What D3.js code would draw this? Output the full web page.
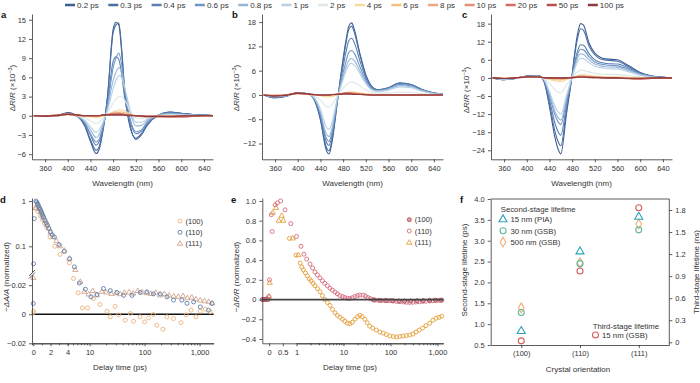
<!DOCTYPE html>
<html>
<head>
<meta charset="utf-8">
<script src="https://cdn.jsdelivr.net/npm/d3@7"></script>
<style>
  body { margin: 0; background: #fff; }
  svg { font-family: "Liberation Sans", Arial, sans-serif; }
</style>
</head>
<body>
<svg id="fig" width="700" height="383"></svg>
<script>
// ---- data ----
const delays = ["0.2 ps", "0.3 ps", "0.4 ps", "0.6 ps", "0.8 ps", "1 ps", "2 ps", "4 ps", "6 ps", "8 ps", "10 ps", "20 ps", "50 ps", "100 ps"];
const delayColors = ["#3d5f93", "#4a6ea3", "#5b7fb3", "#6f95c4", "#94b6d8", "#b7d0e6", "#dde7e6", "#f3dca0", "#f2c182", "#eba581", "#e39078", "#d36d62", "#b4504f", "#8b3b3e"];
const wavelengths = [340, 360, 380, 400, 420, 430, 440, 450, 455, 460, 470, 480, 485, 490, 495, 500, 510, 520, 530, 540, 560, 580, 600, 620, 640, 660];
const wlTicks = [360, 400, 440, 480, 520, 560, 600, 640];

// panel a, dR/R (x10^-3), one row per delay
const specA = [
  [0, -0.1, 0, 0.5, -0.3, -1.6, -4.0, -5.9, -5.3, -3.4, 3.0, 13.5, 14.6, 14.2, 10.0, 4.0, -1.8, -3.5, -2.8, -1.4, 0.1, 0.6, 0.4, 0.2, 0.1, 0],
  [0, -0.1, 0, 0.4, -0.3, -1.5, -3.7, -5.4, -4.9, -3.1, 2.8, 13.0, 14.2, 14.5, 10.5, 4.5, -1.5, -3.7, -3.0, -1.5, 0.1, 0.6, 0.4, 0.2, 0.1, 0],
  [0, -0.1, 0, 0.4, -0.2, -1.2, -3.0, -4.6, -4.1, -2.7, 2.0, 8.5, 9.2, 8.8, 6.5, 3.0, -1.0, -2.8, -2.4, -1.2, 0.1, 0.5, 0.3, 0.2, 0.1, 0],
  [0, -0.1, 0, 0.3, -0.2, -1.1, -2.8, -4.1, -3.7, -2.4, 1.5, 7.5, 9.0, 9.8, 8.0, 4.5, -0.5, -2.5, -2.2, -1.0, 0.1, 0.4, 0.3, 0.1, 0.1, 0],
  [0, 0, 0, 0.3, -0.2, -0.9, -2.2, -3.4, -3.0, -1.9, 1.2, 5.5, 6.8, 7.5, 6.8, 4.5, 0.5, -1.6, -1.5, -0.7, 0.1, 0.3, 0.2, 0.1, 0, 0],
  [0, 0, 0, 0.3, -0.1, -0.7, -1.7, -2.6, -2.3, -1.4, 0.8, 4.2, 5.5, 6.3, 6.0, 4.5, 1.0, -1.0, -1.0, -0.5, 0, 0.2, 0.1, 0.1, 0, 0],
  [0, 0, 0, 0.2, -0.1, -0.3, -0.8, -1.2, -1.0, -0.6, 0.4, 2.0, 2.6, 3.0, 3.0, 2.5, 0.8, -0.3, -0.4, -0.2, 0, 0.1, 0.1, 0, 0, 0],
  [0, 0, 0, 0.2, 0, -0.1, -0.2, -0.3, -0.2, -0.1, 0.2, 0.6, 0.8, 0.9, 0.9, 0.8, 0.3, 0, -0.1, -0.1, 0, 0, 0, 0, 0, 0],
  [0, 0, 0, 0.2, 0, 0, -0.1, -0.1, -0.1, 0, 0.2, 0.5, 0.6, 0.6, 0.6, 0.5, 0.2, 0, -0.1, -0.1, 0, -0.1, -0.1, 0, 0, 0],
  [0, 0, 0, 0.2, 0, 0, 0, 0, 0, 0, 0.2, 0.4, 0.4, 0.5, 0.4, 0.3, 0.1, 0, -0.1, -0.1, -0.1, -0.2, -0.1, -0.1, 0, 0],
  [0, 0, 0, 0.2, 0, 0, 0, 0, 0, 0.1, 0.2, 0.3, 0.4, 0.4, 0.3, 0.2, 0.1, 0, -0.1, -0.1, -0.1, -0.2, -0.2, -0.1, 0, 0],
  [0, 0, 0.1, 0.3, 0.1, 0, 0, 0, 0, 0.1, 0.2, 0.3, 0.3, 0.3, 0.3, 0.2, 0.1, 0, -0.1, -0.2, -0.2, -0.2, -0.2, -0.1, 0, 0],
  [0, 0, 0.1, 0.3, 0.1, 0, 0, 0, 0, 0.1, 0.2, 0.2, 0.2, 0.2, 0.2, 0.1, 0.1, 0, -0.1, -0.1, -0.1, -0.1, -0.1, 0, 0, 0],
  [0, -0.1, 0, 0.2, 0.1, 0, 0, 0, 0, 0.1, 0.1, 0.1, 0.1, 0.1, 0.1, 0.1, 0, 0, 0, -0.1, -0.1, -0.1, 0, 0, 0, 0]
];

// panel b
const specB = [
  [0, -0.7, -0.3, 0.6, 0.2, -1.5, -6.2, -13.5, -14.6, -12.0, -1.5, 9.0, 13.5, 17.0, 17.8, 16.0, 10.0, 5.0, 2.2, 1.3, 1.8, 3.0, 2.6, 1.3, 0.5, 0.2],
  [0, -0.7, -0.3, 0.6, 0.2, -1.4, -5.8, -12.8, -13.8, -11.4, -1.4, 8.5, 12.8, 16.2, 17.0, 15.3, 9.6, 4.8, 2.1, 1.3, 1.8, 2.9, 2.5, 1.2, 0.5, 0.2],
  [0, -0.6, -0.3, 0.5, 0.2, -1.2, -5.2, -11.5, -12.5, -10.3, -1.2, 7.0, 10.6, 13.4, 14.0, 12.8, 8.2, 4.2, 1.9, 1.2, 1.8, 2.9, 2.5, 1.2, 0.5, 0.2],
  [0, -0.5, -0.2, 0.5, 0.2, -1.1, -4.8, -10.6, -11.5, -9.5, -1.0, 5.5, 8.3, 10.5, 11.0, 10.2, 6.8, 3.6, 1.6, 1.1, 1.6, 2.6, 2.2, 1.1, 0.4, 0.2],
  [0, -0.4, -0.2, 0.5, 0.2, -1.0, -4.3, -9.5, -10.3, -8.5, -0.9, 4.5, 6.8, 8.5, 9.0, 8.4, 5.8, 3.1, 1.4, 1.0, 1.4, 2.3, 2.0, 1.0, 0.4, 0.2],
  [0, -0.4, -0.2, 0.4, 0.1, -0.8, -3.5, -7.8, -8.5, -7.0, -0.7, 3.8, 5.9, 7.4, 7.8, 7.3, 5.1, 2.8, 1.3, 0.9, 1.2, 2.0, 1.8, 0.9, 0.3, 0.1],
  [0, -0.2, -0.1, 0.3, 0.1, -0.3, -1.3, -2.8, -3.0, -2.5, -0.2, 1.6, 2.4, 3.0, 3.2, 3.0, 2.2, 1.3, 0.7, 0.5, 0.5, 0.7, 0.6, 0.3, 0.1, 0],
  [0, -0.1, 0, 0.3, 0.1, 0, -0.2, -0.5, -0.5, -0.4, 0, 0.4, 0.6, 0.7, 0.8, 0.7, 0.5, 0.3, 0.2, 0.1, 0.1, 0.1, 0.1, 0, 0, 0],
  [0, -0.1, 0, 0.3, 0.1, 0, -0.1, -0.2, -0.2, -0.1, 0.1, 0.4, 0.5, 0.6, 0.6, 0.5, 0.4, 0.2, 0.1, 0.1, 0, 0, 0, 0, 0, 0],
  [0, -0.1, 0, 0.4, 0.1, 0, 0, -0.1, -0.1, 0, 0.1, 0.4, 0.5, 0.5, 0.5, 0.4, 0.3, 0.1, 0.1, 0, 0, 0, 0, 0, 0, 0],
  [0, -0.1, 0, 0.4, 0.1, 0, 0, 0, 0, 0, 0.2, 0.4, 0.5, 0.5, 0.4, 0.4, 0.2, 0.1, 0, 0, 0, 0, 0, 0, 0, 0],
  [0, -0.2, 0, 0.5, 0.2, 0, 0, 0, 0, 0.1, 0.2, 0.4, 0.5, 0.5, 0.4, 0.3, 0.2, 0.1, 0, 0, 0, 0, 0, 0, 0, 0],
  [0, -0.2, 0, 0.5, 0.2, 0.1, 0, 0, 0, 0.1, 0.2, 0.3, 0.3, 0.3, 0.3, 0.2, 0.1, 0.1, 0, 0, 0, 0, 0, 0, 0, 0],
  [0, -0.3, -0.1, 0.4, 0.2, 0.1, 0, 0, 0, 0.1, 0.1, 0.2, 0.2, 0.2, 0.2, 0.1, 0.1, 0, 0, 0, 0, 0, 0, 0, 0, 0]
];

// panel c
const specC = [
  [0, -0.6, -0.2, 0.6, 0.8, -1.0, -9.5, -20.0, -23.5, -25.2, -12.0, 1.0, 9.0, 15.0, 18.0, 17.5, 11.5, 8.2, 6.8, 6.3, 6.0, 4.0, 1.8, 0.6, 0.2, 0],
  [0, -0.6, -0.2, 0.6, 0.8, -0.9, -8.5, -18.0, -21.0, -22.5, -10.8, 0.9, 8.1, 13.5, 16.3, 15.8, 10.5, 7.6, 6.3, 5.9, 5.5, 3.7, 1.7, 0.6, 0.2, 0],
  [0, -0.5, -0.2, 0.5, 0.7, -0.8, -7.2, -15.2, -17.8, -19.0, -9.2, 0.6, 5.5, 9.2, 11.0, 10.8, 8.0, 6.0, 5.2, 4.8, 4.6, 3.2, 1.5, 0.5, 0.2, 0],
  [0, -0.5, -0.2, 0.5, 0.6, -0.6, -5.9, -12.4, -14.5, -15.5, -7.5, 0.5, 4.7, 8.0, 9.5, 9.3, 7.0, 5.3, 4.6, 4.3, 4.0, 2.8, 1.3, 0.5, 0.2, 0],
  [0, -0.4, -0.2, 0.4, 0.6, -0.5, -5.3, -11.2, -13.1, -14.0, -6.8, 0.4, 4.0, 6.8, 8.0, 7.8, 6.0, 4.6, 4.0, 3.7, 3.5, 2.4, 1.1, 0.4, 0.1, 0],
  [0, -0.4, -0.1, 0.4, 0.5, -0.4, -4.5, -9.6, -11.2, -12.0, -5.8, 0.3, 3.2, 5.5, 6.5, 6.4, 5.0, 3.9, 3.4, 3.1, 2.9, 2.0, 0.9, 0.3, 0.1, 0],
  [0, -0.2, -0.1, 0.3, 0.4, -0.2, -1.9, -4.0, -4.7, -5.0, -2.4, 0.2, 1.3, 2.1, 2.5, 2.5, 2.0, 1.5, 1.3, 1.2, 1.1, 0.8, 0.4, 0.1, 0, 0],
  [0, -0.1, 0, 0.3, 0.3, 0, -0.5, -1.0, -1.1, -1.2, -0.6, 0.1, 0.5, 0.8, 1.0, 1.0, 0.8, 0.6, 0.5, 0.4, 0.3, 0.2, 0.1, 0, 0, 0],
  [0, -0.1, 0, 0.3, 0.3, 0, -0.3, -0.6, -0.6, -0.7, -0.3, 0.1, 0.4, 0.6, 0.7, 0.7, 0.6, 0.4, 0.3, 0.2, 0.2, 0.1, 0, 0, 0, 0],
  [0, -0.1, 0, 0.3, 0.3, 0, -0.1, -0.3, -0.3, -0.4, -0.2, 0.1, 0.3, 0.5, 0.5, 0.5, 0.4, 0.3, 0.2, 0.1, 0, -0.1, -0.2, -0.1, 0, 0],
  [0, -0.1, 0, 0.3, 0.3, 0.1, 0, -0.2, -0.2, -0.2, -0.1, 0.1, 0.3, 0.4, 0.5, 0.5, 0.4, 0.3, 0.2, 0.1, 0, -0.2, -0.3, -0.2, 0, 0],
  [0, -0.2, 0, 0.4, 0.4, 0.1, 0, -0.1, -0.1, -0.1, 0, 0.2, 0.3, 0.4, 0.4, 0.4, 0.3, 0.2, 0.1, 0, -0.1, -0.3, -0.4, -0.2, 0, 0],
  [0, -0.2, 0, 0.4, 0.4, 0.1, 0, 0, 0, 0, 0, 0.1, 0.2, 0.3, 0.3, 0.3, 0.2, 0.1, 0.1, 0, -0.1, -0.2, -0.3, -0.1, 0, 0],
  [0, -0.2, 0, 0.3, 0.3, 0.1, 0, 0, 0, 0, 0, 0.1, 0.1, 0.2, 0.2, 0.2, 0.1, 0.1, 0, 0, 0, -0.1, -0.1, 0, 0, 0]
];

// panel d: [delay (ps), -dA/A normalized]
const d100 = [[0, 0.001], [0.03, 0.002], [0.3, 0.68], [0.55, 0.58], [0.8, 0.47], [1.05, 0.39], [1.3, 0.32], [1.55, 0.27], [1.95, 0.16], [2.5, 0.1], [3.1, 0.066], [4.3, 0.043], [5.1, 0.0246], [6.2, 0.0147], [7.4, 0.0044], [9.2, 0.0044], [11.8, 0.0108], [15.5, 0.0067], [20.7, 0.002], [23.8, -0.0018], [29, 0.0054], [33.7, -0.0005], [44.6, -0.0041], [55, 0.0005], [63, -0.0048], [83, -0.0018], [100, -0.0053], [118, -0.0025], [145, -0.0002], [167, -0.0076], [215, -0.0103], [255, -0.0018], [336, -0.003], [460, -0.0058], [570, -0.0005], [700, 0.0028], [860, -0.0018], [1030, 0.0021], [1270, 0.0035], [1560, 0.0016]];
const d110 = [[0, 0.0074], [0.03, 0.041], [0.12, 0.41], [0.3, 1.0], [0.4, 0.95], [0.5, 0.88], [0.6, 0.8], [0.7, 0.72], [0.8, 0.66], [0.9, 0.6], [1.0, 0.54], [1.1, 0.48], [1.2, 0.44], [1.35, 0.38], [1.5, 0.33], [1.65, 0.29], [1.8, 0.25], [2.0, 0.21], [2.2, 0.18], [2.45, 0.16], [3.0, 0.109], [3.6, 0.077], [4.33, 0.053], [5.3, 0.035], [6.5, 0.0214], [8.4, 0.0172], [10.6, 0.012], [13.6, 0.0136], [17.9, 0.0177], [23.8, 0.0163], [31.5, 0.015], [41.5, 0.013], [58.9, 0.013], [83.4, 0.015], [110, 0.0154], [145, 0.014], [193, 0.014], [255, 0.012], [336, 0.0097], [476, 0.0097], [590, 0.0075], [780, 0.0085], [1030, 0.005], [1460, 0.0028], [1680, 0.0074]];
const d111 = [[0, 0.025], [0.25, 0.7], [0.45, 0.82], [0.6, 0.75], [0.75, 0.66], [0.9, 0.58], [1.05, 0.5], [1.2, 0.43], [1.4, 0.36], [1.6, 0.3], [1.8, 0.25], [2.0, 0.2], [2.3, 0.16], [2.7, 0.13], [3.1, 0.1], [3.6, 0.08], [4.3, 0.053], [5.5, 0.03], [6.8, 0.0223], [8, 0.0154], [9.6, 0.0136], [11.4, 0.016], [13.6, 0.013], [16.8, 0.0155], [20, 0.015], [25, 0.014], [30, 0.0145], [36, 0.0138], [43, 0.0148], [52, 0.015], [62, 0.0142], [75, 0.016], [90, 0.015], [110, 0.0145], [130, 0.014], [160, 0.0148], [190, 0.013], [230, 0.0138], [280, 0.0128], [340, 0.0122], [410, 0.012], [500, 0.0125], [600, 0.011], [720, 0.0115], [860, 0.0102], [1030, 0.0095], [1230, 0.009], [1470, 0.0085], [1700, 0.0075]];

// panel e: [delay (ps), -dR/R normalized]
const e100 = [[-0.25, 0], [-0.18, 0], [-0.11, 0], [-0.04, 0], [45, -0.005], [60, -0.008], [80, -0.01], [110, -0.012], [150, -0.015], [200, -0.015], [270, -0.015], [370, -0.012], [500, -0.01], [680, -0.008], [900, -0.006], [1200, -0.005]];
const e110 = [[-0.22, 0], [-0.15, 0], [-0.08, 0.01], [-0.02, 0.03], [0.01, 0.2], [0.08, 0.86], [0.11, 0.69], [0.22, 0.96], [0.3, 0.98], [0.42, 1.0], [0.58, 0.91], [0.79, 0.77], [1.0, 0.64], [1.25, 0.54], [1.44, 0.46], [1.65, 0.41], [1.94, 0.36], [2.2, 0.32], [2.47, 0.28], [2.8, 0.25], [3.16, 0.22], [3.55, 0.19], [4.0, 0.165], [4.55, 0.14], [5.16, 0.115], [5.8, 0.095], [6.6, 0.075], [7.4, 0.058], [8.4, 0.04], [9.5, 0.03], [10.7, 0.02], [12.1, 0.013], [13.7, 0.01], [15.5, 0.018], [17.5, 0.03], [19.8, 0.04], [22.3, 0.045], [26, 0.045], [29.5, 0.035], [33, 0.02], [37, 0.01], [41.8, 0], [47, -0.005], [55, -0.008], [64, -0.01], [75, -0.01], [86, -0.012], [97, -0.01], [115, -0.015], [135, -0.02], [160, -0.022], [190, -0.025], [220, -0.028], [256, -0.03], [300, -0.028], [350, -0.025], [410, -0.022], [480, -0.02], [560, -0.018], [683, -0.015], [800, -0.012], [950, -0.01], [1100, -0.008], [1230, -0.008]];
const e111Early = [[0.0, 0.03], [0.02, 0.17], [0.13, 0.88], [0.25, 0.93], [0.35, 0.8], [0.46, 0.85], [0.52, 0.8], [0.86, 0.62], [1.1, 0.45]];
const e111 = [[-0.2, 0], [-0.1, 0], [0.74, 0.62], [0.98, 0.45], [1.2, 0.37], [1.3, 0.33], [1.4, 0.3], [1.55, 0.27], [1.7, 0.24], [1.87, 0.21], [2.05, 0.19], [2.25, 0.165], [2.47, 0.14], [2.8, 0.11], [3.16, 0.08], [3.55, 0.04], [4.0, 0.0], [4.55, -0.03], [5.16, -0.06], [5.8, -0.1], [6.6, -0.135], [7.4, -0.16], [8.4, -0.18], [9.5, -0.2], [10.7, -0.22], [12.1, -0.24], [13.7, -0.245], [15.5, -0.23], [17.5, -0.2], [19.8, -0.175], [22.3, -0.16], [25, -0.175], [28.5, -0.2], [32, -0.235], [36, -0.27], [42, -0.29], [50, -0.31], [59, -0.33], [70, -0.34], [82, -0.355], [97, -0.37], [115, -0.375], [134, -0.38], [158, -0.375], [185, -0.37], [218, -0.365], [256, -0.36], [300, -0.35], [350, -0.33], [410, -0.31], [480, -0.29], [570, -0.265], [683, -0.24], [800, -0.21], [930, -0.19], [1080, -0.18], [1230, -0.17]];

// panel f
const orientations = ["(100)", "(110)", "(111)"];
const pia15 = [0.83, 2.74, 3.57];     // ps
const gsb30 = [1.28, 2.45, 3.26];     // ps
const gsb500 = [1.39, 2.47, 3.40];    // ps
const third15 = [0.02, 0.97, 1.83];   // ns

// ---- drawing ----
const svg = d3.select("#fig");
const ink = "#333";
const minus = s => String(s).replace("-", "\u2212");

function styleAxis(g) {
  g.selectAll("path, line").attr("stroke", ink).attr("stroke-width", 0.8);
  g.selectAll("text").attr("fill", ink).style("font-size", "7.5px");
}

function panelLabel(x, y, t) {
  svg.append("text").attr("x", x).attr("y", y).attr("font-weight", "bold")
    .attr("font-size", 9.5).attr("fill", "#111").text(t);
}

function title(x, y, t) {
  svg.append("text").attr("x", x).attr("y", y).attr("text-anchor", "middle")
    .attr("font-size", 8).attr("fill", ink).text(t);
}

// rotated y title made of parts [text, kind]
function yTitle(x, y, parts) {
  const t = svg.append("text").attr("transform", `translate(${x},${y}) rotate(-90)`)
    .attr("text-anchor", "middle").attr("font-size", 8).attr("fill", ink);
  for (const [s, kind] of parts) {
    const sp = t.append("tspan").text(s);
    if (kind === "i") sp.attr("font-style", "italic");
    if (kind === "sup") sp.attr("font-size", 5.5).attr("dy", -3);
    if (kind === "after") sp.attr("dy", 3);
  }
}
const dRR = [["Δ"], ["R", "i"], ["/"], ["R", "i"], [" (×10"], ["\u22123", "sup"], [")", "after"]];

// top legend
(function () {
  const lg = svg.append("g").attr("font-size", 8).attr("fill", ink);
  let x = 65;
  delays.forEach((d, i) => {
    lg.append("line").attr("x1", x).attr("x2", x + 10).attr("y1", 5).attr("y2", 5)
      .attr("stroke", delayColors[i]).attr("stroke-width", 2.5);
    const t = lg.append("text").attr("x", x + 12).attr("y", 8).text(d);
    x += 12 + t.node().getComputedTextLength() + 9.5;
  });
})();

function spectra(id, rows, xr, yDomain, yTicks) {
  const x = d3.scaleLinear().domain([337, 656]).range(xr);
  const y = d3.scaleLinear().domain(yDomain).range([159.3, 14]);
  svg.append("clipPath").attr("id", id).append("rect")
    .attr("x", xr[0]).attr("y", 14).attr("width", xr[1] - xr[0]).attr("height", 145.3);
  const line = d3.line().x((v, i) => x(wavelengths[i])).y(v => y(v)).curve(d3.curveMonotoneX);
  const g = svg.append("g").attr("clip-path", `url(#${id})`);
  rows.forEach((r, i) => {
    g.append("path").attr("d", line(r)).attr("fill", "none")
      .attr("stroke", delayColors[i]).attr("stroke-width", 1.1);
  });
  const gx = svg.append("g").attr("transform", "translate(0,159.3)")
    .call(d3.axisBottom(x).tickValues(wlTicks).tickSize(3).tickSizeOuter(0));
  styleAxis(gx);
  const gy = svg.append("g").attr("transform", `translate(${xr[0]},0)`)
    .call(d3.axisLeft(y).tickValues(yTicks).tickSize(3).tickSizeOuter(0).tickFormat(minus));
  styleAxis(gy);
  title((xr[0] + xr[1]) / 2, 186, "Wavelength (nm)");
}

spectra("clipA", specA, [32, 213], [-6.8, 15.9], [-6, -3, 0, 3, 6, 9, 12, 15]);
spectra("clipB", specB, [262, 443], [-15.9, 20], [-12, -6, 0, 6, 12, 18]);
spectra("clipC", specC, [491, 672], [-27, 21.2], [-24, -18, -12, -6, 0, 6, 12, 18]);
panelLabel(1, 18, "a");
panelLabel(232, 18, "b");
panelLabel(462, 18, "c");
yTitle(15, 88, dRR);
yTitle(238.5, 88, dRR);
yTitle(468.5, 90, dRR);

function circles(g, data, fx, fy, color, fill) {
  g.selectAll(null).data(data).join("circle")
    .attr("cx", d => fx(d[0])).attr("cy", d => fy(d[1])).attr("r", 2.0)
    .attr("fill", fill || "none").attr("stroke", color).attr("stroke-width", 0.9);
}
function triangles(g, data, fx, fy, color) {
  const sym = d3.symbol(d3.symbolTriangle, 12);
  g.selectAll(null).data(data).join("path")
    .attr("transform", d => `translate(${fx(d[0])},${fy(d[1])})`)
    .attr("d", sym).attr("fill", "none").attr("stroke", color).attr("stroke-width", 0.9);
}
function smallLegend(x, ys, labels, draw) {
  labels.forEach((l, i) => {
    draw(i, x, ys[i]);
    svg.append("text").attr("x", x + 5.5).attr("y", ys[i] + 2.7).attr("font-size", 7.5)
      .attr("fill", ink).text(l);
  });
}

// panel d
(function () {
  const xLin = d3.scaleLinear().domain([-0.15, 4]).range([32, 67.7]);
  const xLog = d3.scaleLog().domain([4, 1800]).range([67.7, 213.6]);
  const yLin = d3.scaleLinear().domain([-0.02, 0.027]).range([343.3, 275]);
  const yLog = d3.scaleLog().domain([0.027, 1.17]).range([272, 198]);
  const fx = t => (t <= 4 ? xLin(t) : xLog(t));
  const fy = v => (v < 0.027 ? yLin(v) : yLog(v));
  const cD = { c100: "#ecb47c", c110: "#5d80ac", c111: "#cfa58e" };

  svg.append("line").attr("x1", 32).attr("x2", 213.6).attr("y1", yLin(0)).attr("y2", yLin(0))
    .attr("stroke", "#111").attr("stroke-width", 1.4);

  const g = svg.append("g");
  circles(g, d100, fx, fy, cD.c100);
  triangles(g, d111, fx, fy, cD.c111);
  circles(g, d110, fx, fy, cD.c110);

  const bx = 343.3;
  styleAxis(svg.append("g").attr("transform", `translate(0,${bx})`)
    .call(d3.axisBottom(xLin).tickValues([0, 2, 4]).tickSize(3).tickSizeOuter(0).tickFormat(d => d)));
  styleAxis(svg.append("g").attr("transform", `translate(0,${bx})`)
    .call(d3.axisBottom(xLin).tickValues([1, 3]).tickSize(2).tickFormat("")));
  styleAxis(svg.append("g").attr("transform", `translate(0,${bx})`)
    .call(d3.axisBottom(xLog).tickValues([10, 100, 1000]).tickSize(3).tickSizeOuter(0).tickFormat(d3.format(","))));
  styleAxis(svg.append("g").attr("transform", `translate(0,${bx})`)
    .call(d3.axisBottom(xLog).tickValues([5, 6, 7, 8, 9, 20, 30, 40, 50, 60, 70, 80, 90, 200, 300, 400, 500, 600, 700, 800, 900]).tickSize(2).tickSizeOuter(0).tickFormat("")));

  styleAxis(svg.append("g").attr("transform", "translate(32,0)")
    .call(d3.axisLeft(yLog).tickValues([0.1, 1]).tickSize(3).tickSizeOuter(0).tickFormat(d => d)));
  styleAxis(svg.append("g").attr("transform", "translate(32,0)")
    .call(d3.axisLeft(yLin).tickValues([-0.02, 0, 0.02]).tickSize(3).tickSizeOuter(0).tickFormat(minus)));
  // axis break mark
  svg.append("path").attr("d", "M29,276L35,270M29,278.5L35,272.5").attr("stroke", ink).attr("stroke-width", 0.8);

  smallLegend(180, [221, 232.3, 243.7], ["(100)", "(110)", "(111)"], (i, x, y) => {
    const item = [[0, 0]];
    const g2 = svg.append("g");
    if (i === 0) circles(g2, item, () => x, () => y, cD.c100);
    if (i === 1) circles(g2, item, () => x, () => y, cD.c110);
    if (i === 2) triangles(g2, item, () => x, () => y, cD.c111);
  });
  title(120, 370, "Delay time (ps)");
  yTitle(8.5, 277, [["\u2212ΔA/A", "i"], [" (normalized)"]]);
  panelLabel(0, 203, "d");
})();

// panel e
(function () {
  const xLin = d3.scaleLinear().domain([-0.25, 1]).range([262.3, 296.5]);
  const xLog = d3.scaleLog().domain([1, 1330]).range([296.5, 443.3]);
  const y = d3.scaleLinear().domain([-0.444, 1.03]).range([343.3, 198]);
  const fx = t => (t <= 1 ? xLin(t) : xLog(t));
  const cE = { c100: "#a8505c", f100: "#dca3ab", c110: "#d66c7c", c111: "#e3a03c" };

  const g = svg.append("g");
  circles(g, e111, fx, y, cE.c111);
  triangles(g, e111Early, fx, y, cE.c111);
  circles(g, e110, fx, y, cE.c110);
  circles(g, e100, fx, y, cE.c100, cE.f100);

  svg.append("line").attr("x1", 262.3).attr("x2", 443.3).attr("y1", y(0)).attr("y2", y(0))
    .attr("stroke", "#444").attr("stroke-width", 1.8);

  const bx = 343.3;
  styleAxis(svg.append("g").attr("transform", `translate(0,${bx})`)
    .call(d3.axisBottom(xLin).tickValues([0, 0.5, 1]).tickSize(3).tickSizeOuter(0).tickFormat(d => d)));
  styleAxis(svg.append("g").attr("transform", `translate(0,${bx})`)
    .call(d3.axisBottom(xLog).tickValues([10, 100, 1000]).tickSize(3).tickSizeOuter(0).tickFormat(d3.format(","))));
  styleAxis(svg.append("g").attr("transform", `translate(0,${bx})`)
    .call(d3.axisBottom(xLog).tickValues([2, 3, 4, 5, 6, 7, 8, 9, 20, 30, 40, 50, 60, 70, 80, 90, 200, 300, 400, 500, 600, 700, 800, 900]).tickSize(2).tickSizeOuter(0).tickFormat("")));
  styleAxis(svg.append("g").attr("transform", "translate(262.3,0)")
    .call(d3.axisLeft(y).tickValues([-0.4, -0.2, 0, 0.2, 0.4, 0.6, 0.8, 1.0]).tickSize(3).tickSizeOuter(0)
      .tickFormat(d => (d === 0 ? "0" : minus(d3.format(".1f")(d))))));

  smallLegend(409.3, [219.7, 231, 242.7], ["(100)", "(110)", "(111)"], (i, x, yy) => {
    const item = [[0, 0]];
    const g2 = svg.append("g");
    if (i === 0) circles(g2, item, () => x, () => yy, cE.c100, cE.f100);
    if (i === 1) circles(g2, item, () => x, () => yy, cE.c110);
    if (i === 2) triangles(g2, item, () => x, () => yy, cE.c111);
  });
  title(350, 370, "Delay time (ps)");
  yTitle(238.5, 277, [["\u2212ΔR/R", "i"], [" (normalized)"]]);
  panelLabel(231, 203, "e");
})();

// panel f
(function () {
  const x = d3.scalePoint().domain(orientations).range([490.7, 669.3]).padding(0.52);
  const yL = d3.scaleLinear().domain([0.5, 4]).range([345, 199]);
  const yR = d3.scaleLinear().domain([0, 1.8]).range([342.3, 210]);
  const cF = { pia: "#2aa3b8", g30: "#62b89c", g500: "#f1b078", third: "#d55f5c" };
  const tri = d3.symbol(d3.symbolTriangle, 28);
  const dia = d3.symbol(d3.symbolDiamond, 28);

  svg.append("line").attr("x1", 490.7).attr("x2", 669.3).attr("y1", 199).attr("y2", 199)
    .attr("stroke", ink).attr("stroke-width", 0.8);

  styleAxis(svg.append("g").attr("transform", "translate(0,345)")
    .call(d3.axisBottom(x).tickSize(3).tickSizeOuter(0)));
  styleAxis(svg.append("g").attr("transform", "translate(490.7,0)")
    .call(d3.axisLeft(yL).tickValues(d3.range(0.5, 4.01, 0.5)).tickSize(3).tickSizeOuter(0).tickFormat(d3.format(".1f"))));
  const gr = svg.append("g").attr("transform", "translate(669.3,0)")
    .call(d3.axisRight(yR).tickValues([0, 0.3, 0.6, 0.9, 1.2, 1.5, 1.8]).tickSize(3).tickSizeOuter(0)
      .tickFormat(d => (d === 0 ? "0" : d3.format(".1f")(d))));
  styleAxis(gr);
  gr.select(".domain").attr("d", "M0,199V345");

  const g = svg.append("g").attr("fill", "none").attr("stroke-width", 1.1);
  const mark = (vals, scale, color, shape) => {
    orientations.forEach((o, i) => {
      if (shape === "c") {
        g.append("circle").attr("cx", x(o)).attr("cy", scale(vals[i])).attr("r", 3.0).attr("stroke", color);
      } else {
        g.append("path").attr("transform", `translate(${x(o)},${scale(vals[i])})`)
          .attr("d", shape === "t" ? tri : dia).attr("stroke", color);
      }
    });
  };
  mark(gsb500, yL, cF.g500, "d");
  mark(gsb30, yL, cF.g30, "c");
  mark(pia15, yL, cF.pia, "t");
  mark(third15, yR, cF.third, "c");

  const lt = (xx, yy, t) => svg.append("text").attr("x", xx).attr("y", yy)
    .attr("font-size", 7.8).attr("fill", ink).text(t);
  lt(500.7, 212, "Second-stage lifetime");
  const items = [["15 nm (PIA)", cF.pia, "t"], ["30 nm (GSB)", cF.g30, "c"], ["500 nm (GSB)", cF.g500, "d"]];
  items.forEach(([t, c, s], i) => {
    const yy = 219.5 + i * 11.3;
    if (s === "c") g.append("circle").attr("cx", 503).attr("cy", yy).attr("r", 3.0).attr("stroke", c);
    else g.append("path").attr("transform", `translate(503,${yy})`).attr("d", s === "t" ? tri : dia).attr("stroke", c);
    lt(510.5, yy + 2.8, t);
  });
  lt(592.7, 328.5, "Third-stage lifetime");
  g.append("circle").attr("cx", 595.5).attr("cy", 335).attr("r", 3.0).attr("stroke", cF.third);
  lt(602, 337.8, "15 nm (GSB)");

  title(578, 372, "Crystal orientation");
  yTitle(467, 270, [["Second-stage lifetime (ps)"]]);
  yTitle(699, 272, [["Third-stage lifetime (ns)"]]);
  panelLabel(460, 203, "f");
})();
</script>
</body>
</html>
